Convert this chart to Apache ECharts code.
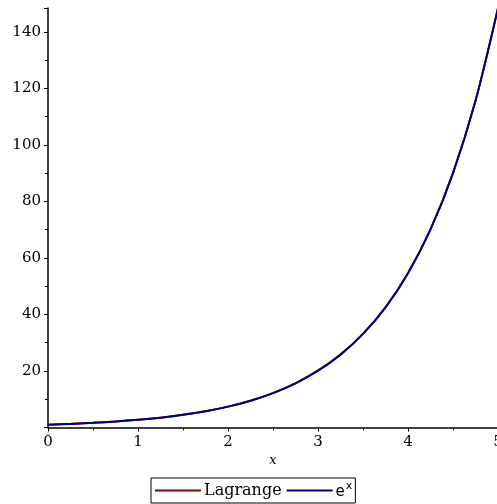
<!DOCTYPE html>
<html>
<head>
<meta charset="utf-8">
<script src="https://cdn.jsdelivr.net/npm/echarts@6/dist/echarts.min.js"></script>
<style>
  html, body { margin: 0; padding: 0; background: #fff; }
  #chart { width: 497px; height: 504px; }
</style>
</head>
<body>
<div id="chart"></div>
<script>
// Sample points along x
const xValues = [0, 0.25, 0.5, 0.75, 1, 1.25, 1.5, 1.75, 2, 2.25, 2.5, 2.75, 3, 3.25, 3.5, 3.75, 4, 4.25, 4.5, 4.75, 5];
// Lagrange interpolating polynomial values
const lagrangeValues = [1.0, 1.30, 1.67, 2.13, 2.72, 3.49, 4.48, 5.75, 7.39, 9.49, 12.18, 15.64, 20.09, 25.79, 33.12, 42.52, 54.60, 70.11, 90.02, 115.58, 148.41];
// Exponential function values
const expValues = [1.0, 1.28, 1.65, 2.12, 2.72, 3.49, 4.48, 5.75, 7.39, 9.49, 12.18, 15.64, 20.09, 25.79, 33.12, 42.52, 54.60, 70.11, 90.02, 115.58, 148.41];
// Axis tick labels
const xTicks = [0, 1, 2, 3, 4, 5];
const yTicks = [20, 40, 60, 80, 100, 120, 140];

const serif = 'DejaVu Serif';

const chart = echarts.init(document.getElementById('chart'));
chart.setOption({
  animation: false,
  backgroundColor: '#fff',
  grid: { left: 48, top: 8, width: 450, bottom: 76.5, containLabel: false, outerBoundsMode: 'none' },
  xAxis: {
    type: 'value',
    min: 0, max: 5, interval: 1,
    name: 'x',
    nameLocation: 'middle',
    nameGap: 27,
    nameTextStyle: { fontFamily: serif, fontStyle: 'italic', fontSize: 13, color: '#000' },
    axisLine: { show: true, onZero: false, lineStyle: { color: '#000', width: 1.5 } },
    axisTick: { show: true, length: 4, lineStyle: { color: '#000', width: 1 } },
    minorTick: { show: true, splitNumber: 2, length: 3, lineStyle: { color: '#000', width: 1 } },
    splitLine: { show: false },
    axisLabel: {
      customValues: xTicks,
      fontFamily: serif, fontSize: 15, color: '#000', margin: 7
    }
  },
  yAxis: {
    type: 'value',
    min: 0, max: 148.41, interval: 20,
    axisLine: { show: true, onZero: false, lineStyle: { color: '#000', width: 1.5 } },
    axisTick: { show: true, length: 4, lineStyle: { color: '#000', width: 1 } },
    minorTick: { show: true, splitNumber: 2, length: 3, lineStyle: { color: '#000', width: 1 } },
    splitLine: { show: false },
    axisLabel: {
      customValues: yTicks,
      fontFamily: serif, fontSize: 15, color: '#000', margin: 7
    }
  },
  legend: {
    bottom: 1,
    left: 151,
    orient: 'horizontal',
    backgroundColor: '#fff',
    borderColor: '#000',
    borderWidth: 1,
    padding: [3, 3, 3, 4],
    itemGap: 5,
    itemWidth: 46,
    itemHeight: 14,
    data: [
      { name: 'Lagrange', icon: 'path://M0,0 L46,0 L46,2 L0,2 Z', itemStyle: { color: '#800000' } },
      { name: 'e^x', icon: 'path://M0,0 L46,0 L46,2 L0,2 Z', itemStyle: { color: '#000080' } }
    ],
    formatter: function (name) {
      return name === 'e^x' ? '{e|e}{sup|x}' : name;
    },
    textStyle: {
      fontFamily: serif, fontSize: 16, color: '#000', padding: [0, 0, 0, -2],
      rich: {
        e: { fontFamily: 'DejaVu Sans', fontSize: 15, color: '#000', padding: [4, 0, 0, 0] },
        sup: { fontFamily: 'DejaVu Sans', fontSize: 11, color: '#000', verticalAlign: 'top', padding: [0, 0, 8, 1] }
      }
    }
  },
  series: [
    {
      name: 'Lagrange',
      type: 'line',
      smooth: 0.3,
      showSymbol: false,
      lineStyle: { color: '#800000', width: 2 },
      itemStyle: { color: '#800000' },
      data: xValues.map((x, i) => [x, lagrangeValues[i]])
    },
    {
      name: 'e^x',
      type: 'line',
      smooth: 0.3,
      showSymbol: false,
      lineStyle: { color: '#000080', width: 2 },
      itemStyle: { color: '#000080' },
      data: xValues.map((x, i) => [x, expValues[i]])
    }
  ]
});
</script>
</body>
</html>
